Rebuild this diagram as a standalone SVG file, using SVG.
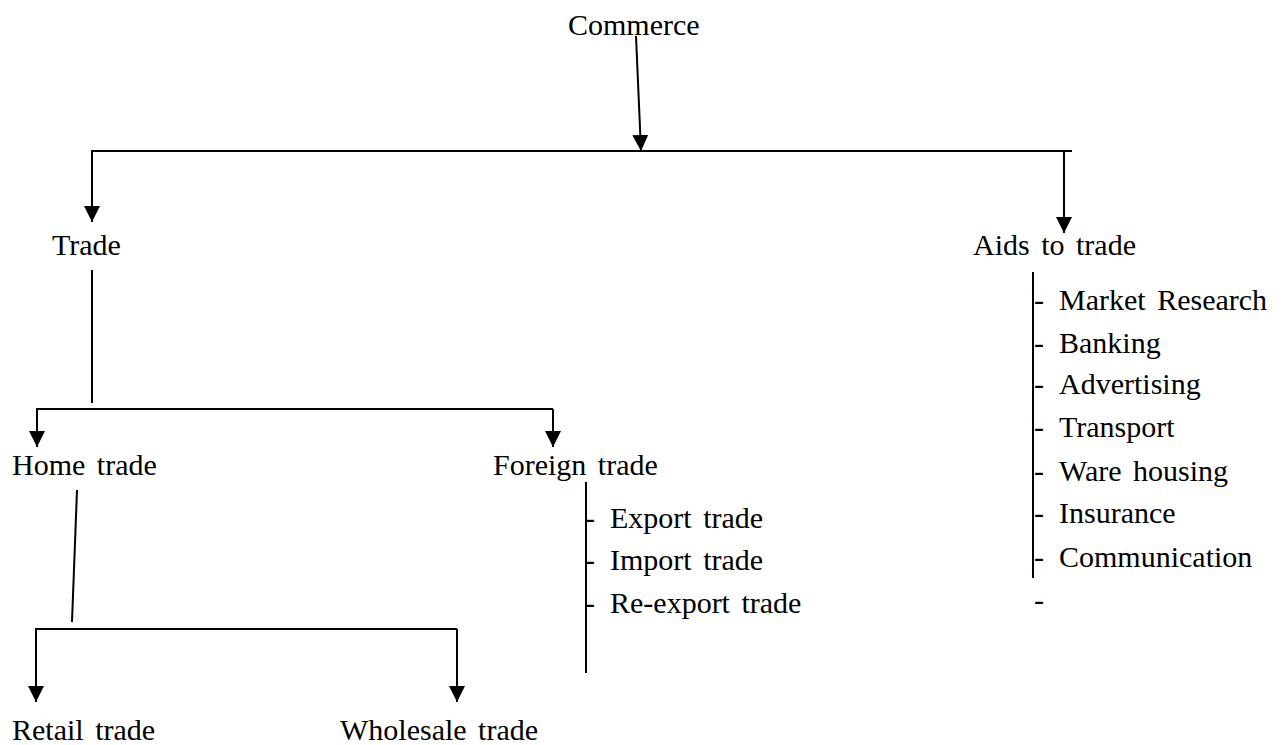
<svg xmlns="http://www.w3.org/2000/svg" width="1283" height="745" viewBox="0 0 1283 745">
<style>
text{font-family:"Liberation Serif","Times New Roman",serif;font-size:30px;fill:#000;word-spacing:4px}
.ln{stroke:#000;stroke-width:2;fill:none}
.ar{stroke:#000;stroke-width:2;fill:none;marker-end:url(#ah)}
</style>
<defs>
<marker id="ah" markerUnits="userSpaceOnUse" markerWidth="16" markerHeight="16" refX="16" refY="8" orient="auto">
<path d="M0,0 L16,8 L0,16 z" fill="#000"/>
</marker>
</defs>
<rect width="1283" height="745" fill="#fff"/>
<g id="connectors">
<line class="ar" x1="636" y1="36" x2="641" y2="151"/>
<line class="ln" x1="91" y1="151" x2="1072" y2="151"/>
<line class="ar" x1="92" y1="151" x2="92" y2="222"/>
<line class="ar" x1="1064" y1="151" x2="1064" y2="233"/>
<line class="ln" x1="92" y1="270" x2="92" y2="403"/>
<line class="ln" x1="36" y1="409" x2="553" y2="409"/>
<line class="ar" x1="37" y1="409" x2="37" y2="447"/>
<line class="ar" x1="553" y1="409" x2="553" y2="447"/>
<line class="ln" x1="77" y1="490" x2="72" y2="622"/>
<line class="ln" x1="35" y1="629" x2="457" y2="629"/>
<line class="ar" x1="36" y1="629" x2="36" y2="702"/>
<line class="ar" x1="457" y1="629" x2="457" y2="702"/>
<line class="ln" x1="586" y1="482" x2="586" y2="673"/>
<line class="ln" x1="1033" y1="272" x2="1033" y2="578"/>
</g>
<g id="commerce"><text x="568" y="35">Commerce</text></g>
<g id="trade"><text x="52" y="255">Trade</text></g>
<g id="aids"><text x="973" y="255">Aids to trade</text></g>
<g id="home"><text x="12" y="475">Home trade</text></g>
<g id="foreign"><text x="493" y="475">Foreign trade</text></g>
<g id="retail"><text x="12" y="740">Retail trade</text></g>
<g id="wholesale"><text x="340" y="740">Wholesale trade</text></g>
<g id="foreign-list">
<text x="585" y="528">-</text><text x="610" y="528">Export trade</text>
<text x="585" y="570">-</text><text x="610" y="570">Import trade</text>
<text x="585" y="613">-</text><text x="610" y="613">Re-export trade</text>
</g>
<g id="aids-list">
<text x="1034" y="310">-</text><text x="1059" y="310">Market Research</text>
<text x="1034" y="353">-</text><text x="1059" y="353">Banking</text>
<text x="1034" y="394">-</text><text x="1059" y="394">Advertising</text>
<text x="1034" y="437">-</text><text x="1059" y="437">Transport</text>
<text x="1034" y="481">-</text><text x="1059" y="481">Ware housing</text>
<text x="1034" y="523">-</text><text x="1059" y="523">Insurance</text>
<text x="1034" y="567">-</text><text x="1059" y="567">Communication</text>
<text x="1034" y="610">-</text>
</g>
</svg>
